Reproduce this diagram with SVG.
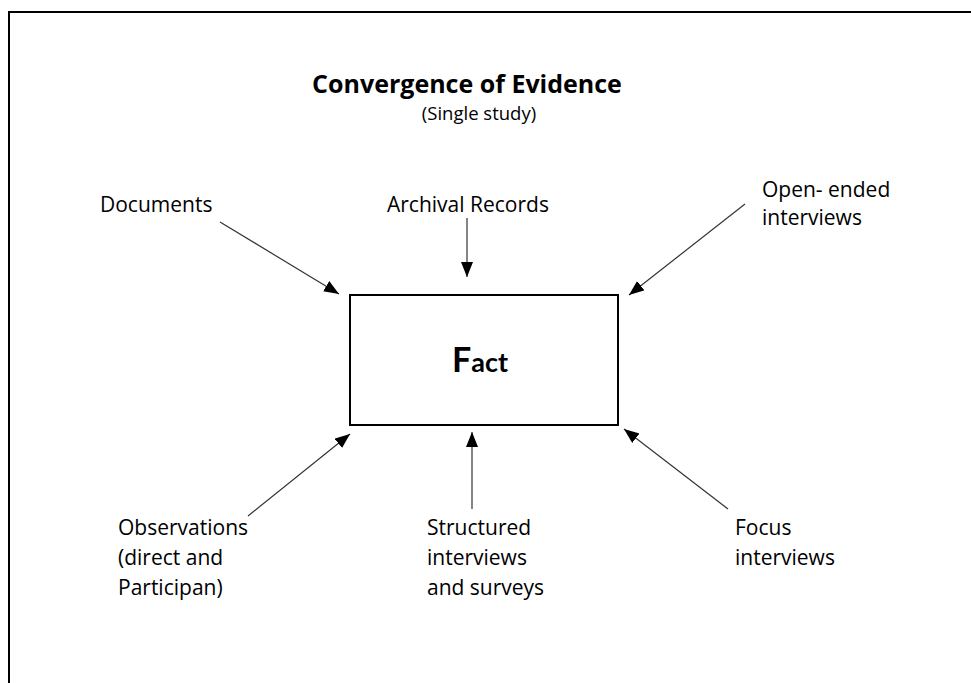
<svg xmlns="http://www.w3.org/2000/svg" width="971" height="683" viewBox="0 0 971 683">
  <defs>
    <marker id="arrow" markerUnits="userSpaceOnUse" markerWidth="16" markerHeight="14" refX="15" refY="6" orient="auto">
      <path d="M0,0 L15,6 L0,12 Z" fill="#000"/>
    </marker>
    <style>
      .label { font-family: "Open Sans", "Liberation Sans", sans-serif; font-size: 21px; fill: #000; }
      .title { font-family: "Open Sans", "Liberation Sans", sans-serif; font-size: 25px; font-weight: bold; fill: #000; }
      .sub { font-family: "Open Sans", "Liberation Sans", sans-serif; font-size: 18.5px; fill: #000; }
      .conn { stroke: #333; stroke-width: 1.2; fill: none; marker-end: url(#arrow); }
      .box { fill: #fff; stroke: #000; stroke-width: 2; }
    </style>
  </defs>

  <rect width="971" height="683" fill="#fff"/>
  <!-- page frame, running off the right and bottom edges -->
  <rect x="9" y="12" width="980" height="700" fill="none" stroke="#000" stroke-width="2"/>

  <g id="title">
    <text class="title" x="467" y="93" text-anchor="middle">Convergence of Evidence</text>
    <text class="sub" x="479" y="120" text-anchor="middle">(Single study)</text>
  </g>

  <g id="fact">
    <rect class="box" x="350" y="295" width="268" height="130"/>
    <text x="480" y="372" text-anchor="middle" font-family="Lato, 'Open Sans', sans-serif" font-weight="bold" fill="#000"><tspan font-size="34">F</tspan><tspan font-size="27">act</tspan></text>
  </g>

  <g id="documents">
    <text class="label" x="100" y="212">Documents</text>
  </g>
  <g id="archival-records">
    <text class="label" x="387" y="212">Archival Records</text>
  </g>
  <g id="open-ended-interviews">
    <text class="label" x="762" y="197">Open- ended</text>
    <text class="label" x="762" y="225">interviews</text>
  </g>
  <g id="observations">
    <text class="label" x="118" y="535">Observations</text>
    <text class="label" x="118" y="565">(direct and</text>
    <text class="label" x="118" y="595">Participan)</text>
  </g>
  <g id="structured-interviews">
    <text class="label" x="427" y="535">Structured</text>
    <text class="label" x="427" y="565">interviews</text>
    <text class="label" x="427" y="595">and surveys</text>
  </g>
  <g id="focus-interviews">
    <text class="label" x="735" y="535">Focus</text>
    <text class="label" x="735" y="565">interviews</text>
  </g>

  <g id="connectors">
    <line class="conn" x1="220" y1="222" x2="339" y2="294"/>
    <line class="conn" x1="467" y1="218" x2="467" y2="277"/>
    <line class="conn" x1="745" y1="204" x2="629" y2="295"/>
    <line class="conn" x1="248" y1="516" x2="350" y2="434"/>
    <line class="conn" x1="472" y1="509" x2="472" y2="432"/>
    <line class="conn" x1="728" y1="509" x2="624" y2="429"/>
  </g>
</svg>
